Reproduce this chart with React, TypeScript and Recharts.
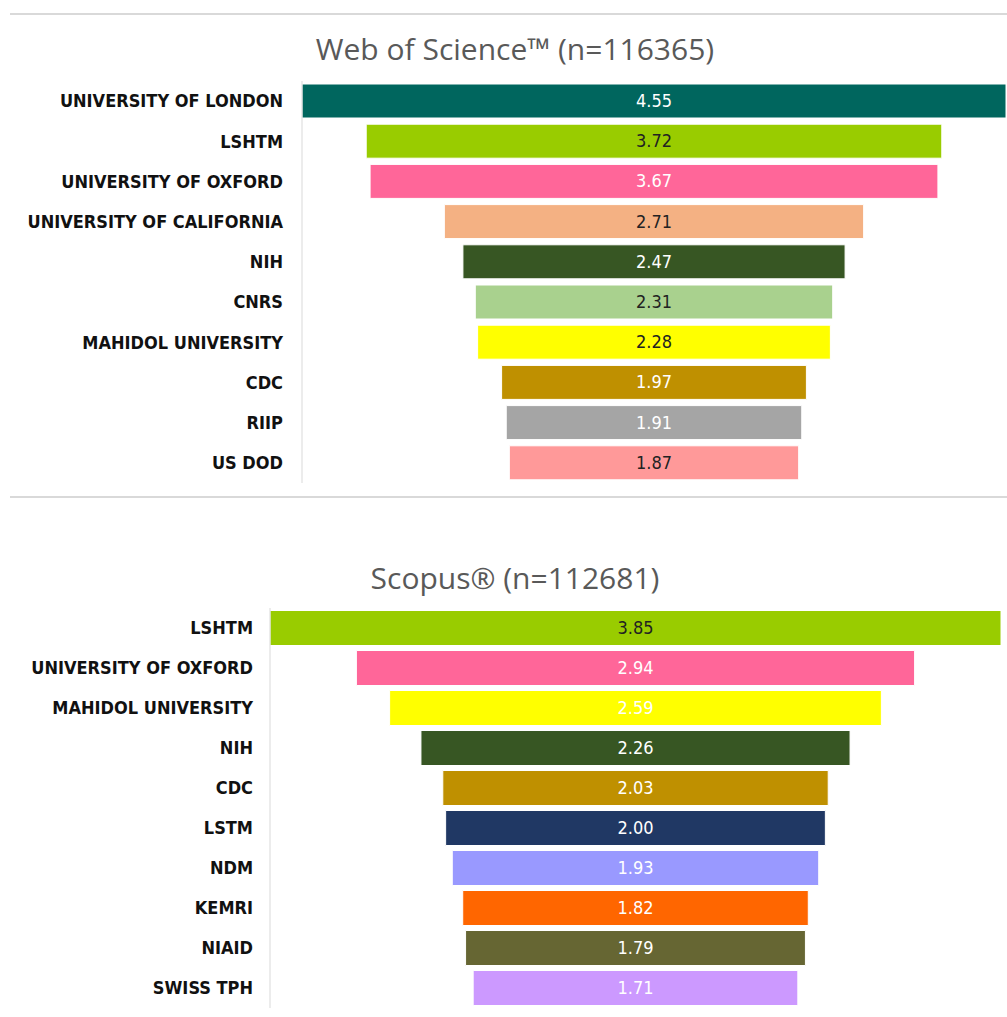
import React from "react";
import { BarChart, Bar, XAxis, YAxis, Cell } from "recharts";

// Web of Science
const wosNames = [
  "UNIVERSITY OF LONDON", "LSHTM", "UNIVERSITY OF OXFORD", "UNIVERSITY OF CALIFORNIA", "NIH",
  "CNRS", "MAHIDOL UNIVERSITY", "CDC", "RIIP", "US DOD",
];
const wosValues = [4.55, 3.72, 3.67, 2.71, 2.47, 2.31, 2.28, 1.97, 1.91, 1.87];

// Scopus
const scopusNames = [
  "LSHTM", "UNIVERSITY OF OXFORD", "MAHIDOL UNIVERSITY", "NIH", "CDC",
  "LSTM", "NDM", "KEMRI", "NIAID", "SWISS TPH",
];
const scopusValues = [3.85, 2.94, 2.59, 2.26, 2.03, 2.0, 1.93, 1.82, 1.79, 1.71];

const WOS_COLORS = ["#00665e", "#99cc00", "#ff6699", "#f4b183", "#375623", "#a9d18e", "#ffff00", "#bf9000", "#a5a5a5", "#ff9999"];
const WOS_TEXT = ["#fff", "#222", "#fff", "#222", "#fff", "#222", "#222", "#fff", "#fff", "#222"];
const SCOPUS_COLORS = ["#99cc00", "#ff6699", "#ffff00", "#375623", "#bf9000", "#203864", "#9999ff", "#ff6600", "#666633", "#cc99ff"];
const SCOPUS_TEXT = ["#222", "#fff", "#fff", "#fff", "#fff", "#fff", "#fff", "#fff", "#fff", "#fff"];

const NARROW = "'DejaVu Sans Condensed', 'Open Sans', sans-serif";
const TITLE_FONT = "'Open Sans', sans-serif";

function buildRows(names: string[], values: number[]) {
  const max = Math.max(...values);
  return names.map((name, i) => ({ name, pad: (max - values[i]) / 2, val: values[i] }));
}

interface FunnelProps {
  names: string[];
  values: number[];
  colors: string[];
  textColors: string[];
  width: number;
  height: number;
  margin: { top: number; right: number; bottom: number; left: number };
  axisWidth: number;
  tickGap: number;
  gap: number;
}

function Funnel({ names, values, colors, textColors, width, height, margin, axisWidth, tickGap, gap }: FunnelProps) {
  const rows = buildRows(names, values);
  const max = Math.max(...values);
  return (
    <BarChart width={width} height={height} data={rows} layout="vertical" margin={margin} barCategoryGap={gap}>
      <XAxis type="number" hide domain={[0, max]} />
      <YAxis
        type="category"
        dataKey="name"
        width={axisWidth}
        tickLine={false}
        tickSize={0}
        tickMargin={tickGap}
        axisLine={{ stroke: "#d9d9d9" }}
        interval={0}
        tick={{ fill: "#111", fontSize: 18, fontWeight: 700, fontFamily: NARROW }}
      />
      <Bar dataKey="pad" stackId="f" fill="transparent" isAnimationActive={false} />
      <Bar
        dataKey="val"
        stackId="f"
        isAnimationActive={false}
        stroke="#ffffff"
        strokeWidth={1}
        label={(p: any) => (
          <text
            x={p.x + p.width / 2}
            y={p.y + p.height / 2}
            dy={6}
            textAnchor="middle"
            fontSize={18}
            fontFamily={NARROW}
            fill={textColors[p.index] ?? "#222"}
          >
            {rows[p.index] ? rows[p.index].val.toFixed(2) : ""}
          </text>
        )}
      >
        {rows.map((_, i) => (
          <Cell key={i} fill={colors[i]} />
        ))}
      </Bar>
    </BarChart>
  );
}

const titleStyle: React.CSSProperties = {
  position: "absolute",
  left: 0,
  width: 1030,
  textAlign: "center",
  fontFamily: TITLE_FONT,
  fontSize: 30,
  color: "#595959",
};

export default function App() {
  return (
    <div style={{ position: "absolute", left: 0, top: 0, width: 1007, height: 1017, background: "#fff", overflow: "hidden" }}>
      <div style={{ position: "absolute", left: 10, top: 13, width: 997, height: 2, background: "#d9d9d9" }} />
      <div style={{ position: "absolute", left: 10, top: 496, width: 997, height: 2, background: "#d9d9d9" }} />
      <div style={{ ...titleStyle, top: 28 }}>Web of Science™ (n=116365)</div>
      <div style={{ ...titleStyle, top: 557 }}>Scopus® (n=112681)</div>

      <div style={{ position: "absolute", left: 0, top: 0 }}>
        <Funnel
          names={wosNames}
          values={wosValues}
          colors={WOS_COLORS}
          textColors={WOS_TEXT}
          width={1007}
          height={497}
          margin={{ top: 81, right: 1, bottom: 14, left: 0 }}
          axisWidth={302}
          tickGap={19}
          gap={3}
        />
      </div>
      <div style={{ position: "absolute", left: 0, top: 497 }}>
        <Funnel
          names={scopusNames}
          values={scopusValues}
          colors={SCOPUS_COLORS}
          textColors={SCOPUS_TEXT}
          width={1007}
          height={520}
          margin={{ top: 111, right: 6, bottom: 9, left: 0 }}
          axisWidth={270}
          tickGap={17}
          gap={2.5}
        />
      </div>
    </div>
  );
}
